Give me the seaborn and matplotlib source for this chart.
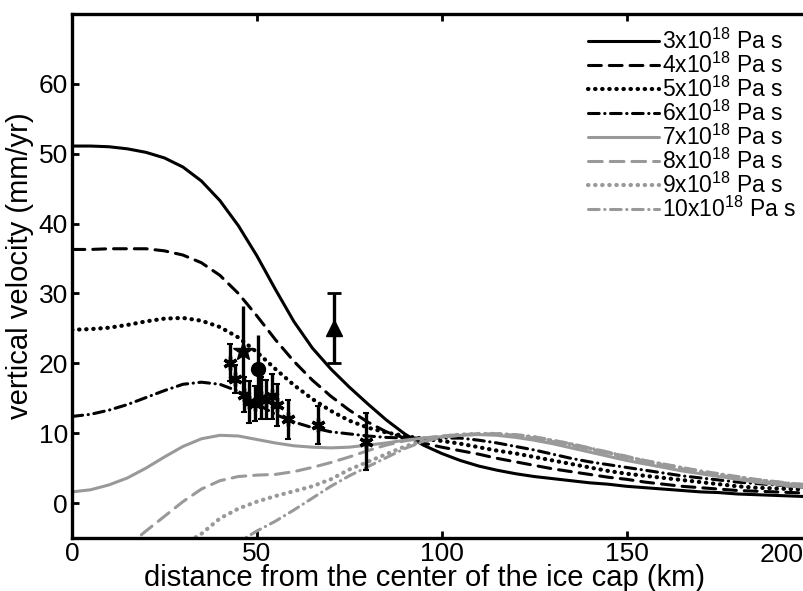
import numpy as np
import pandas as pd
import seaborn as sns
import matplotlib.pyplot as plt

# ---------------------------------
# DATA
# ---------------------------------
x_km = [0, 5, 10, 15, 20, 25, 30, 35, 40, 45, 50, 55, 60, 65, 70, 75, 80, 85, 90, 95,
        100, 105, 110, 115, 120, 125, 130, 135, 140, 145, 150, 155, 160, 165, 170, 175,
        180, 185, 190, 195, 200]

visc_3 = [51.1, 51.1, 51.0, 50.7, 50.2, 49.4, 48.1, 46.1, 43.3, 39.7, 35.4, 30.6, 26.0,
          22.2, 19.2, 16.6, 14.2, 11.9, 9.9, 8.3, 7.1, 6.1, 5.3, 4.7, 4.2, 3.8, 3.5, 3.2,
          2.9, 2.7, 2.4, 2.2, 2.0, 1.8, 1.6, 1.5, 1.3, 1.2, 1.1, 1.0, 0.9]
visc_4 = [36.3, 36.3, 36.4, 36.4, 36.4, 36.1, 35.5, 34.4, 32.6, 30.0, 26.8, 23.4, 20.3,
          17.6, 15.3, 13.3, 11.6, 10.2, 9.3, 8.6, 8.0, 7.5, 7.0, 6.4, 5.9, 5.4, 4.9, 4.5,
          4.1, 3.7, 3.4, 3.0, 2.7, 2.4, 2.2, 2.0, 1.8, 1.7, 1.6, 1.5, 1.4]
visc_5 = [24.8, 24.9, 25.1, 25.5, 26.0, 26.4, 26.5, 26.1, 25.2, 23.7, 21.6, 19.2, 16.9,
          14.9, 13.2, 11.8, 10.8, 10.1, 9.6, 9.2, 8.9, 8.5, 8.0, 7.5, 7.1, 6.6, 6.1, 5.6,
          5.1, 4.6, 4.2, 3.9, 3.6, 3.3, 3.0, 2.7, 2.4, 2.2, 2.1, 2.0, 1.9]
visc_6 = [12.4, 12.7, 13.3, 14.1, 15.1, 16.1, 17.0, 17.3, 17.0, 16.0, 14.2, 12.7, 11.6,
          10.8, 10.2, 9.9, 9.6, 9.4, 9.3, 9.3, 9.3, 9.3, 9.0, 8.6, 8.1, 7.6, 7.0, 6.4,
          5.9, 5.5, 5.1, 4.7, 4.3, 3.9, 3.6, 3.3, 3.0, 2.8, 2.6, 2.4, 2.2]
visc_7 = [1.6, 1.9, 2.6, 3.6, 5.0, 6.6, 8.1, 9.2, 9.7, 9.6, 9.1, 8.6, 8.2, 8.0, 7.9, 8.0,
          8.3, 8.6, 9.0, 9.3, 9.5, 9.7, 9.8, 9.7, 9.4, 9.0, 8.5, 7.9, 7.3, 6.7, 6.1, 5.6,
          5.1, 4.6, 4.2, 3.8, 3.4, 3.0, 2.7, 2.4, 2.2]
visc_8 = [-12.0, -10.0, -8.3, -6.2, -4.0, -1.9, 0.2, 2.0, 3.2, 3.8, 4.0, 4.1, 4.5, 5.1,
          5.8, 6.6, 7.5, 8.3, 8.9, 9.3, 9.6, 9.8, 9.9, 9.9, 9.7, 9.3, 8.8, 8.3, 7.7, 7.1,
          6.5, 5.9, 5.4, 4.9, 4.4, 4.0, 3.6, 3.2, 2.9, 2.6, 2.4]
visc_9 = [-19.0, -17.0, -14.5, -12.0, -9.5, -7.5, -6.0, -4.4, -2.2, -0.8, 0.2, 1.0, 1.7,
          2.4, 3.4, 4.8, 5.9, 7.0, 8.1, 8.9, 9.5, 9.8, 9.9, 9.9, 9.7, 9.4, 8.9, 8.4, 7.8,
          7.2, 6.6, 6.0, 5.5, 5.0, 4.5, 4.1, 3.7, 3.3, 3.0, 2.7, 2.5]
visc_10 = [-30.0, -27.0, -24.0, -21.0, -18.0, -15.5, -13.0, -10.5, -8.0, -5.6, -4.0, -2.6,
           -1.0, 0.7, 2.4, 3.9, 5.2, 6.5, 7.8, 8.8, 9.4, 9.7, 9.9, 9.9, 9.8, 9.5, 9.0, 8.5,
           7.9, 7.3, 6.7, 6.1, 5.6, 5.1, 4.6, 4.2, 3.8, 3.4, 3.1, 2.8, 2.6]

labels = ["3", "4", "5", "6", "7", "8", "9", "10"]

# GPS stations (asterisks)
gps_x = [42.7, 44.2, 46.5, 48.0, 49.5, 51.0, 52.5, 54.0, 55.5, 58.4, 66.5, 79.5]
gps_y = [20.1, 17.8, 15.5, 14.5, 14.2, 15.0, 14.8, 15.3, 14.0, 12.0, 11.2, 8.8]
gps_err = [2.6, 2.0, 2.5, 3.0, 2.5, 3.0, 2.8, 3.2, 3.0, 2.8, 2.7, 4.1]

star_x, star_y, star_err = [46.3], [21.7], [6.5]
circ_x, circ_y, circ_err = [50.4], [19.2], [4.8]
tri_x, tri_y, tri_err = [71.0], [25.1], [5.0]

# ---------------------------------
# STYLE
# ---------------------------------
sns.set_style("ticks")
plt.rcParams['font.family'] = ['Liberation Sans', 'DejaVu Sans']
plt.rcParams['mathtext.fontset'] = 'custom'
plt.rcParams['mathtext.rm'] = 'Liberation Sans'
plt.rcParams['mathtext.it'] = 'Liberation Sans:italic'
for key in ['axes.edgecolor', 'text.color', 'axes.labelcolor', 'xtick.color', 'ytick.color']:
    plt.rcParams[key] = 'black'

fig = plt.figure(figsize=(8.04, 5.91), dpi=100)
ax = fig.add_axes([72 / 804, 53 / 591, (804 - 72) / 804, 524 / 591])

grey = "0.6"
# (colour, linestyle, linewidth)
styles = [
    ("k", "-", 2.2),
    ("k", (0, (4.2, 2.6)), 2.2),
    ("k", (0, (0.1, 1.6)), 3.0),
    ("k", (0, (3.5, 1.8, 0.1, 1.8)), 2.2),
    (grey, "-", 2.2),
    (grey, (0, (4.5, 2.6)), 2.2),
    (grey, (0, (0.1, 1.6)), 3.0),
    (grey, (0, (3.5, 1.8, 0.1, 1.8)), 2.2),
]
series = [visc_3, visc_4, visc_5, visc_6, visc_7, visc_8, visc_9, visc_10]

for vals, lab, (col, ls, lw) in zip(series, labels, styles):
    sns.lineplot(x=x_km, y=vals, ax=ax, color=col, linestyle=ls, lw=lw,
                 dash_capstyle="round", label=lab + r"x10$^{18}$ Pa s")

# data points with error bars
ax.errorbar(gps_x, gps_y, yerr=gps_err, fmt="none", ecolor="k", elinewidth=2.4, capsize=2, capthick=1.5)
ax.plot(gps_x, gps_y, linestyle="none", marker=(6, 2, 0), ms=10, mec="k", mew=2.4)
ax.errorbar(star_x, star_y, yerr=star_err, fmt="*", color="k", ms=15, elinewidth=2.4, capsize=0)
ax.errorbar(circ_x, circ_y, yerr=circ_err, fmt="o", color="k", ms=10, elinewidth=2.4, capsize=0)
ax.errorbar(tri_x, tri_y, yerr=tri_err, fmt="^", color="k", ms=12, elinewidth=2.4, capsize=5, capthick=2)

# ---------- AXES ----------
ax.set_xlim(0, 198)
ax.set_ylim(-5, 70)
ax.set_xticks([0, 50, 100, 150])
ax.set_yticks([0, 10, 20, 30, 40, 50, 60])
ax.tick_params(direction="in", top=True, right=False, length=5, width=2, labelsize=19, pad=3)
ax.text(1.0, -0.01, "200", transform=ax.transAxes, ha="right", va="top", fontsize=19)
for s in ax.spines.values():
    s.set_linewidth(2.4)
ax.spines["right"].set_visible(False)

ax.set_xlabel("distance from the center of the ice cap (km)", fontsize=21)
ax.set_ylabel("vertical velocity (mm/yr)", fontsize=21)
ax.xaxis.set_label_coords(0.482, -0.05)
ax.yaxis.set_label_coords(-0.052, 0.52)

ax.legend(loc="upper right", bbox_to_anchor=(0.99, 0.972), frameon=False, fontsize=16.5,
          handlelength=3.1, handletextpad=0.15, labelspacing=-0.05, borderaxespad=0, borderpad=0)

plt.savefig("out.png", dpi=100)
